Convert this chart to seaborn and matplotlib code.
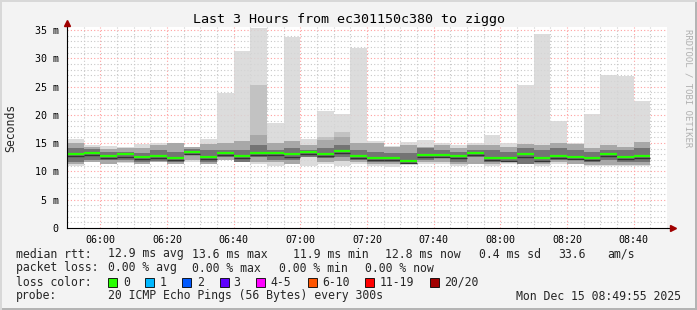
import numpy as np
import pandas as pd
import seaborn as sns
import matplotlib
matplotlib.use("Agg")
import matplotlib.pyplot as plt
import matplotlib.transforms as mtransforms
from matplotlib.patches import Rectangle

# ---------------- data (ms), one value per 5-minute bin starting 05:50 ----------------
tick_labels = ["06:00", "06:20", "06:40", "07:00", "07:20", "07:40", "08:00", "08:20", "08:40"]
tick_minutes = [10, 30, 50, 70, 90, 110, 130, 150, 170]

median_rtt = [13.1, 13.3, 12.8, 13.0, 12.6, 12.7, 12.4, 13.4, 12.6, 13.3, 12.8, 13.3,
              13.3, 13.0, 13.4, 13.1, 13.6, 12.8, 12.4, 12.4, 11.9, 12.9, 12.9, 12.7,
              13.3, 12.4, 12.3, 13.0, 12.3, 12.7, 12.6, 12.4, 13.1, 12.6, 12.8]
max_rtt = [15.7, 14.7, 14.5, 14.4, 14.9, 15.0, 15.0, 14.4, 15.7, 23.9, 31.3, 35.4,
           18.6, 33.8, 15.7, 20.6, 20.1, 31.9, 15.4, 14.5, 15.2, 15.6, 15.0, 14.6,
           15.0, 16.4, 15.0, 25.2, 34.3, 19.0, 15.0, 20.1, 27.1, 26.9, 22.5]
min_rtt = [11.0, 11.7, 11.7, 11.5, 11.3, 11.7, 11.3, 11.7, 11.3, 12.1, 11.7, 11.3,
           11.0, 11.3, 11.0, 11.3, 11.0, 11.3, 11.0, 10.8, 11.4, 11.4, 11.4, 11.0,
           11.4, 11.0, 11.3, 11.3, 11.0, 11.4, 11.3, 11.0, 11.0, 11.0, 11.0]
smoke_b_hi = [15.1, 14.3, 13.9, 14.1, 14.1, 14.7, 15.0, 14.4, 14.8, 15.0, 15.3, 25.2,
              15.0, 15.3, 14.7, 16.1, 17.0, 15.0, 15.0, 14.4, 14.7, 14.4, 14.7, 14.1,
              14.7, 14.7, 14.4, 14.8, 14.7, 15.0, 14.9, 14.1, 14.7, 14.4, 15.2]
smoke2_hi = [15.1, 14.3, 13.9, 14.1, 14.1, 14.7, 15.0, 14.4, 14.8, 15.0, 15.3, 16.5,
             15.0, 15.3, 14.7, 15.6, 16.0, 15.0, 15.0, 14.4, 14.7, 14.4, 14.7, 14.1,
             14.7, 14.7, 14.4, 14.8, 14.7, 15.0, 14.9, 14.1, 14.7, 14.4, 15.2]
smoke2_lo = [11.4, 11.6, 11.4, 11.6, 11.4, 11.6, 11.4, 12.0, 11.4, 12.1, 11.6, 11.7,
             11.7, 11.4, 12.6, 11.7, 11.9, 11.7, 11.4, 11.4, 11.4, 11.7, 11.7, 11.4,
             11.4, 11.4, 11.7, 11.4, 11.4, 11.7, 11.4, 11.1, 11.1, 11.1, 11.1]
smoke3_hi = [14.1, 13.9, 13.5, 13.5, 13.3, 13.7, 13.5, 13.9, 13.8, 13.8, 13.8, 14.7,
             13.7, 14.1, 13.8, 14.1, 14.7, 13.8, 13.5, 13.3, 13.2, 14.1, 13.8, 13.5,
             13.8, 13.8, 13.5, 14.1, 13.8, 14.1, 13.8, 13.5, 13.8, 13.8, 14.1]
smoke3_lo = [11.7, 12.1, 12.0, 12.0, 11.7, 11.9, 11.7, 12.9, 11.7, 12.6, 11.7, 12.6,
             12.1, 12.0, 12.6, 12.3, 12.6, 12.0, 11.7, 11.7, 11.4, 12.0, 12.3, 11.7,
             12.6, 11.7, 11.9, 11.4, 11.7, 12.0, 12.0, 11.7, 12.0, 11.7, 11.7]

loss_labels = ["0", "1", "2", "3", "4-5", "6-10", "11-19", "20/20"]
loss_colors = ["#26ff00", "#00b8ff", "#0059ff", "#5e00ff", "#ff00ff", "#ff5500", "#ff0000", "#a10000"]

bin_start = np.arange(len(median_rtt)) * 5.0
df = pd.DataFrame({"start": bin_start, "median": median_rtt, "max": max_rtt, "min": min_rtt,
                   "bhi": smoke_b_hi, "hi2": smoke2_hi, "lo2": smoke2_lo,
                   "hi3": smoke3_hi, "lo3": smoke3_lo})

# ---------------- figure ----------------
W, H = 697, 310
sns.set_style("white")
plt.rcParams["font.family"] = ["DejaVu Sans Mono", "DejaVu Sans"]
fig = plt.figure(figsize=(W / 100, H / 100), dpi=100, facecolor="#f3f3f3")

def fx(px):
    return px / W

def fy(py):
    return 1 - py / H

ax = fig.add_axes([fx(67), fy(228), fx(667) - fx(67), fy(27) - fy(228)])
ax.set_facecolor("white")

# grid (under the smoke)
for v in np.arange(5, 180, 5):
    major = (v - 10) % 20 == 0
    ax.axvline(v, color="#ff9f9f" if major else "#c8c8c8", linestyle=(0, (1, 2)),
               linewidth=0.8, zorder=0.5)
for v in np.arange(1, 36, 1):
    major = v % 5 == 0
    ax.axhline(v, color="#ff9f9f" if major else "#c8c8c8", linestyle=(0, (1, 2)),
               linewidth=0.8, zorder=0.5)

# smoke layers
ax.bar(df["start"], df["max"] - df["min"], bottom=df["min"], width=5, align="edge",
       color="#d6d6d6", alpha=0.85, linewidth=0, zorder=1)
ax.bar(df["start"], df["bhi"] - df["lo2"], bottom=df["lo2"], width=5, align="edge",
       color="#c2c2c2", linewidth=0, zorder=1.1)
ax.bar(df["start"], df["hi2"] - df["lo2"], bottom=df["lo2"], width=5, align="edge",
       color="#a8a8a8", linewidth=0, zorder=1.2)
ax.bar(df["start"], df["hi3"] - df["lo3"], bottom=df["lo3"], width=5, align="edge",
       color="#747474", linewidth=0, zorder=1.3)
# median lines (dark edge just below the green)
below = mtransforms.offset_copy(ax.transData, fig=fig, x=0, y=-1.6, units="points")
ax.hlines(df["median"], df["start"], df["start"] + 5, colors="#333333", linewidth=1.0,
          zorder=3.9, transform=below)
ax.hlines(df["median"], df["start"], df["start"] + 5, colors="#26ff00", linewidth=1.6, zorder=4)

ax.set_xlim(0, 180)
ax.set_ylim(0, 35.53)

ax.set_xticks(tick_minutes)
ax.set_xticklabels(tick_labels)
yt = list(range(0, 36, 5))
ax.set_yticks(yt)
ax.set_yticklabels(["0"] + [f"{v} m" for v in yt[1:]])
ax.tick_params(axis="both", labelsize=7.2, colors="#000000", length=2, width=0.6,
               direction="inout", pad=4)
ax.tick_params(axis="y", pad=5)
for s in ["top", "right"]:
    ax.spines[s].set_visible(False)
for s in ["left", "bottom"]:
    ax.spines[s].set_color("#000000")
    ax.spines[s].set_linewidth(0.8)
    ax.spines[s].set_zorder(5)

# axis arrows
ax.plot([0], [1.02], marker="^", markersize=4, color="#a00000", transform=ax.transAxes,
        clip_on=False, zorder=6)
ax.plot([1.01], [0], marker=">", markersize=4, color="#a00000", transform=ax.transAxes,
        clip_on=False, zorder=6)
ax.plot([0, 0], [1.0, 1.02], color="black", lw=0.8, transform=ax.transAxes, clip_on=False)
ax.plot([1.0, 1.01], [0, 0], color="black", lw=0.8, transform=ax.transAxes, clip_on=False)

fig.text(fx(11), fy(128), "Seconds", rotation=90, ha="center", va="center", fontsize=8.3)

# title
fig.text(fx(349), fy(20), "Last 3 Hours from ec301150c380 to ziggo", ha="center", va="center",
         fontsize=9.6, color="#000000")
# right-hand vertical credit
fig.text(fx(688), fy(88), "RRDTOOL / TOBI OETIKER", rotation=270, ha="center", va="center",
         fontsize=6.5, color="#b0b0b0")

# legend lines
fs = 8.3
row = [254, 268, 282, 296]
fig.text(fx(16), fy(row[0]), "median rtt:", va="center", fontsize=fs)
for x, t in [(107.6, "12.9 ms avg"), (192.4, "13.6 ms max"), (292.9, "11.9 ms min"),
             (384.9, "12.8 ms now"), (479, "0.4 ms sd"), (557.8, "33.6"), (607, "am/s")]:
    fig.text(fx(x), fy(row[0]), t, va="center", fontsize=fs)
fig.text(fx(16), fy(row[1]), "packet loss:", va="center", fontsize=fs)
for x, t in [(107.6, "0.00 % avg"), (192.4, "0.00 % max"), (279, "0.00 % min"), (365.3, "0.00 % now")]:
    fig.text(fx(x), fy(row[1]), t, va="center", fontsize=fs)
fig.text(fx(16), fy(row[2]), "loss color:", va="center", fontsize=fs)
sq_x = [108, 145.3, 182, 219.6, 256.4, 307.6, 365.3, 429.8]
lab_x = [123, 160, 197, 233, 270.7, 321.8, 380, 444.4]
for sx, lx, lab, col in zip(sq_x, lab_x, loss_labels, loss_colors):
    fig.patches.append(Rectangle((fx(sx), fy(row[2] + 4.5)), 9 / W, 9 / H, transform=fig.transFigure,
                                 facecolor=col, edgecolor="black", linewidth=0.6))
    fig.text(fx(lx), fy(row[2]), lab, va="center", fontsize=fs)
fig.text(fx(16), fy(row[3]), "probe:", va="center", fontsize=fs)
fig.text(fx(107.6), fy(row[3]), "20 ICMP Echo Pings (56 Bytes) every 300s", va="center", fontsize=fs)
fig.text(fx(681), fy(row[3]), "Mon Dec 15 08:49:55 2025", va="center", ha="right", fontsize=fs)

# image frame
fig.patches.append(Rectangle((0, 0), 1, 2 / H, transform=fig.transFigure, facecolor="#b4b4b4", lw=0))
fig.patches.append(Rectangle((1 - 2 / W, 0), 2 / W, 1, transform=fig.transFigure, facecolor="#b4b4b4", lw=0))
fig.patches.append(Rectangle((0, 1 - 2 / H), 1, 2 / H, transform=fig.transFigure, facecolor="#d8d8d8", lw=0))
fig.patches.append(Rectangle((0, 0), 2 / W, 1, transform=fig.transFigure, facecolor="#d8d8d8", lw=0))

fig.savefig("out.png", dpi=100, facecolor=fig.get_facecolor())
